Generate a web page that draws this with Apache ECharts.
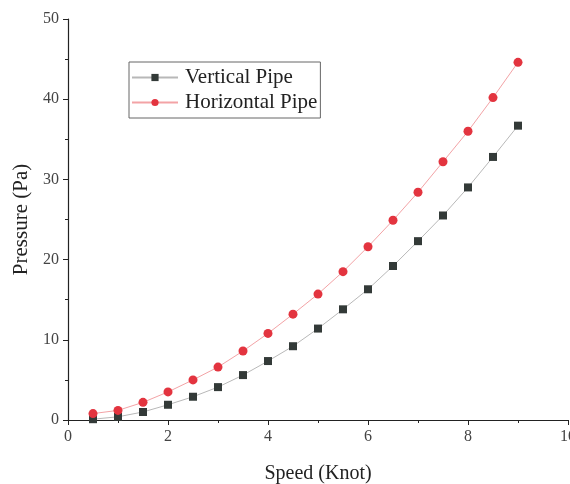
<!DOCTYPE html>
<html>
<head>
<meta charset="utf-8">
<script src="https://cdn.jsdelivr.net/npm/echarts@6/dist/echarts.min.js"></script>
<style>
  html, body { margin: 0; padding: 0; background: #fff; }
  #chart { width: 570px; height: 484px; }
</style>
</head>
<body>
<div id="chart"></div>
<script>
// 数据
const speed = [0.5, 1, 1.5, 2, 2.5, 3, 3.5, 4, 4.5, 5, 5.5, 6, 6.5, 7, 7.5, 8, 8.5, 9]
const verticalPipe = [0.1, 0.4, 1.0, 1.9, 2.9, 4.1, 5.6, 7.35, 9.2, 11.4, 13.8, 16.3, 19.2, 22.3, 25.5, 29.0, 32.8, 36.7]
const horizontalPipe = [0.8, 1.2, 2.2, 3.5, 5.0, 6.6, 8.6, 10.8, 13.2, 15.7, 18.5, 21.6, 24.9, 28.4, 32.2, 36.0, 40.2, 44.6]

const font = 'Liberation Serif'
const chart = echarts.init(document.getElementById('chart'))

const axisCommon = {
  axisLine: { show: true, lineStyle: { color: '#222', width: 1.2 } },
  axisTick: { show: true, inside: false, length: 5, lineStyle: { color: '#222' } },
  minorTick: { show: true, splitNumber: 2, length: 3, lineStyle: { color: '#222' } },
  splitLine: { show: false },
  axisLabel: { fontFamily: font, fontSize: 16, color: '#444' },
  nameTextStyle: { fontFamily: font, fontSize: 20, color: '#222' }
}

const option = {
  animation: false,
  backgroundColor: '#fff',
  grid: { left: 68, right: 2, top: 19, bottom: 64, outerBoundsMode: 'none' },
  legend: {
    orient: 'vertical',
    left: 129,
    top: 62,
    padding: [5, 3, 5, 2],
    itemGap: 4,
    itemWidth: 46,
    itemHeight: 9,
    borderColor: '#666',
    borderWidth: 1,
    borderRadius: 0,
    textStyle: { fontFamily: font, fontSize: 21, color: '#222', padding: [0, 0, 0, 2] },
    data: ['Vertical Pipe', 'Horizontal Pipe']
  },
  xAxis: {
    type: 'value',
    min: 0, max: 10, interval: 2,
    name: 'Speed (Knot)',
    nameLocation: 'middle',
    nameGap: 44,
    ...axisCommon,
    axisLabel: { ...axisCommon.axisLabel, margin: 9 }
  },
  yAxis: {
    type: 'value',
    min: 0, max: 50, interval: 10,
    name: 'Pressure (Pa)',
    nameLocation: 'middle',
    nameGap: 34,
    ...axisCommon,
    nameTextStyle: { ...axisCommon.nameTextStyle, fontSize: 21 },
    axisLabel: { ...axisCommon.axisLabel, margin: 9 }
  },
  series: [
    {
      name: 'Vertical Pipe',
      type: 'line',
      data: speed.map((s, i) => [s, verticalPipe[i]]),
      symbol: 'rect',
      symbolSize: 8,
      itemStyle: { color: '#333a38' },
      lineStyle: { color: '#b8b8b8', width: 1 }
    },
    {
      name: 'Horizontal Pipe',
      type: 'line',
      data: speed.map((s, i) => [s, horizontalPipe[i]]),
      symbol: 'circle',
      symbolSize: 9,
      itemStyle: { color: '#e3343f' },
      lineStyle: { color: '#f3a3a6', width: 1 }
    }
  ]
}

option && chart.setOption(option)
</script>
</body>
</html>
